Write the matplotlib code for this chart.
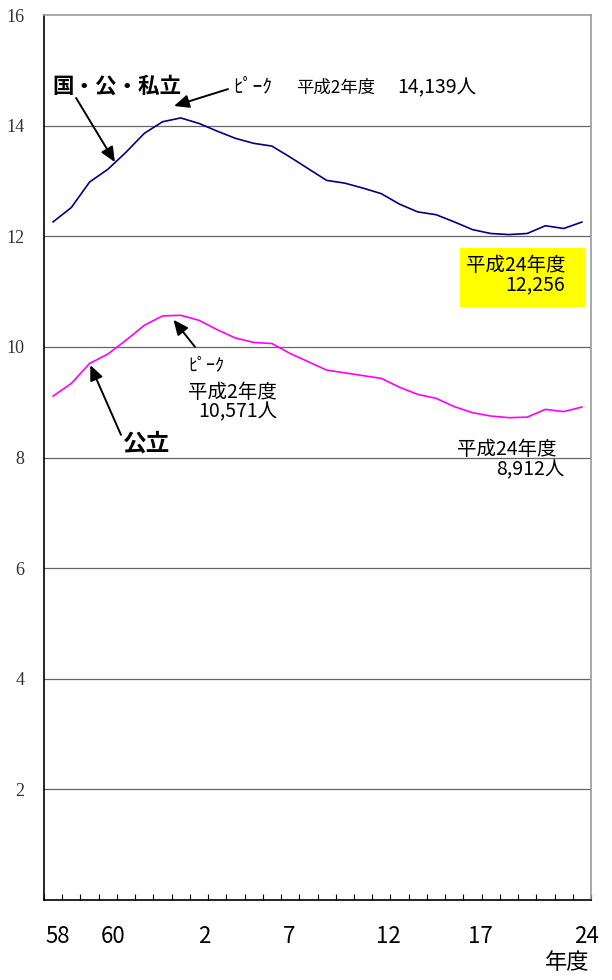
import matplotlib
matplotlib.use("Agg")
import matplotlib.pyplot as plt
from matplotlib.patches import Rectangle
import numpy as np

plt.rcParams['font.family'] = ['Noto Sans CJK JP', 'DejaVu Sans']

# 昭和58年度～平成24年度 (30 points)
years = ["58", "59", "60", "61", "62", "63"] + [str(i) for i in range(1, 25)]
total = [12.26, 12.52, 12.98, 13.21, 13.52, 13.86, 14.07, 14.139, 14.04, 13.90,
         13.77, 13.68, 13.63, 13.43, 13.22, 13.01, 12.96, 12.87, 12.77, 12.58,
         12.44, 12.39, 12.26, 12.12, 12.05, 12.03, 12.05, 12.19, 12.14, 12.256]
public = [9.11, 9.34, 9.70, 9.87, 10.12, 10.39, 10.56, 10.571, 10.48, 10.31,
          10.16, 10.08, 10.06, 9.88, 9.73, 9.58, 9.53, 9.48, 9.43, 9.27,
          9.14, 9.07, 8.92, 8.81, 8.75, 8.72, 8.73, 8.87, 8.83, 8.912]
shown_labels = ["58", "60", "2", "7", "12", "17", "24"]
yticks = [2, 4, 6, 8, 10, 12, 14, 16]

x = np.arange(len(years))

fig = plt.figure(figsize=(6.12, 9.8), dpi=100)
ax = fig.add_axes([44/612, 1-900/980, (591-44)/612, 885/980])

ax.plot(x, total, color="#000080", lw=1.2)
ax.plot(x, public, color="#ff00ff", lw=1.2)

ax.set_xlim(-0.5, len(years)-0.5)
ax.set_ylim(0, 16)
ax.set_yticks(yticks)
ax.set_yticklabels([str(v) for v in yticks], family="Liberation Serif",
                   fontsize=13, color="#333333")
ax.tick_params(axis="y", length=0, pad=14)
for v in yticks[:-1]:
    ax.axhline(v, color="#666666", lw=0.9, zorder=0)

# labels sit a bit off the category centres in the original
label_pos = [0.25, 3.28, 8.29, 12.94, 18.37, 23.42, 29.28]
ax.set_xticks(label_pos)
ax.set_xticklabels(shown_labels, fontsize=16)
ax.tick_params(axis="x", length=0, pad=18)
ax.set_xticks(np.arange(-0.5, len(years)), minor=True)
ax.tick_params(axis="x", which="minor", direction="in", length=4, width=0.8)

for s in ["top", "right"]:
    ax.spines[s].set_color("#999999")
    ax.spines[s].set_linewidth(1.2)
for s in ["left", "bottom"]:
    ax.spines[s].set_color("black")
    ax.spines[s].set_linewidth(1.2)

ax.text(28.19, -0.071, "年度", transform=ax.get_xaxis_transform(),
        ha="center", va="center", fontsize=16)

arr = dict(arrowstyle="-|>,head_length=0.9,head_width=0.4", color="black",
           lw=1.4, shrinkA=0, shrinkB=0)

# 国・公・私立
ax.text(-0.06, 14.72, "国・公・私立", ha="left", va="center", fontsize=15.5,
        fontweight="bold")
ax.annotate("", xy=(3.39, 13.34), xytext=(1.26, 14.50), arrowprops=arr)
ax.annotate("", xy=(6.63, 14.355), xytext=(9.59, 14.66), arrowprops=arr)
ax.text(9.87, 14.68, "ﾋﾟｰｸ", ha="left", va="center", fontsize=14)
ax.text(13.32, 14.68, "平成2年度", ha="left", va="center", fontsize=12.5)
ax.text(18.9, 14.68, "14,139人", ha="left", va="center", fontsize=14)

ax.add_patch(Rectangle((22.32, 10.72), 6.85, 1.07, facecolor="#ffff00",
                       edgecolor="none", zorder=3))
ax.text(22.65, 11.48, "平成24年度", ha="left", va="center", fontsize=14, zorder=4)
ax.text(28.07, 11.12, "12,256", ha="right", va="center", fontsize=14, zorder=4)

# 公立
ax.annotate("", xy=(6.6, 10.49), xytext=(7.78, 10.0), arrowprops=arr)
ax.text(7.4, 9.67, "ﾋﾟｰｸ", ha="left", va="center", fontsize=13)
ax.text(7.4, 9.18, "平成2年度", ha="left", va="center", fontsize=14)
ax.text(7.95, 8.82, "10,571人", ha="left", va="center", fontsize=14)
ax.text(3.83, 8.26, "公立", ha="left", va="center", fontsize=17,
        fontweight="bold")
ax.annotate("", xy=(2.04, 9.67), xytext=(3.72, 8.41), arrowprops=arr)
ax.text(22.15, 8.14, "平成24年度", ha="left", va="center", fontsize=14)
ax.text(28.07, 7.77, "8,912人", ha="right", va="center", fontsize=14)

fig.savefig("out.png", dpi=100)
